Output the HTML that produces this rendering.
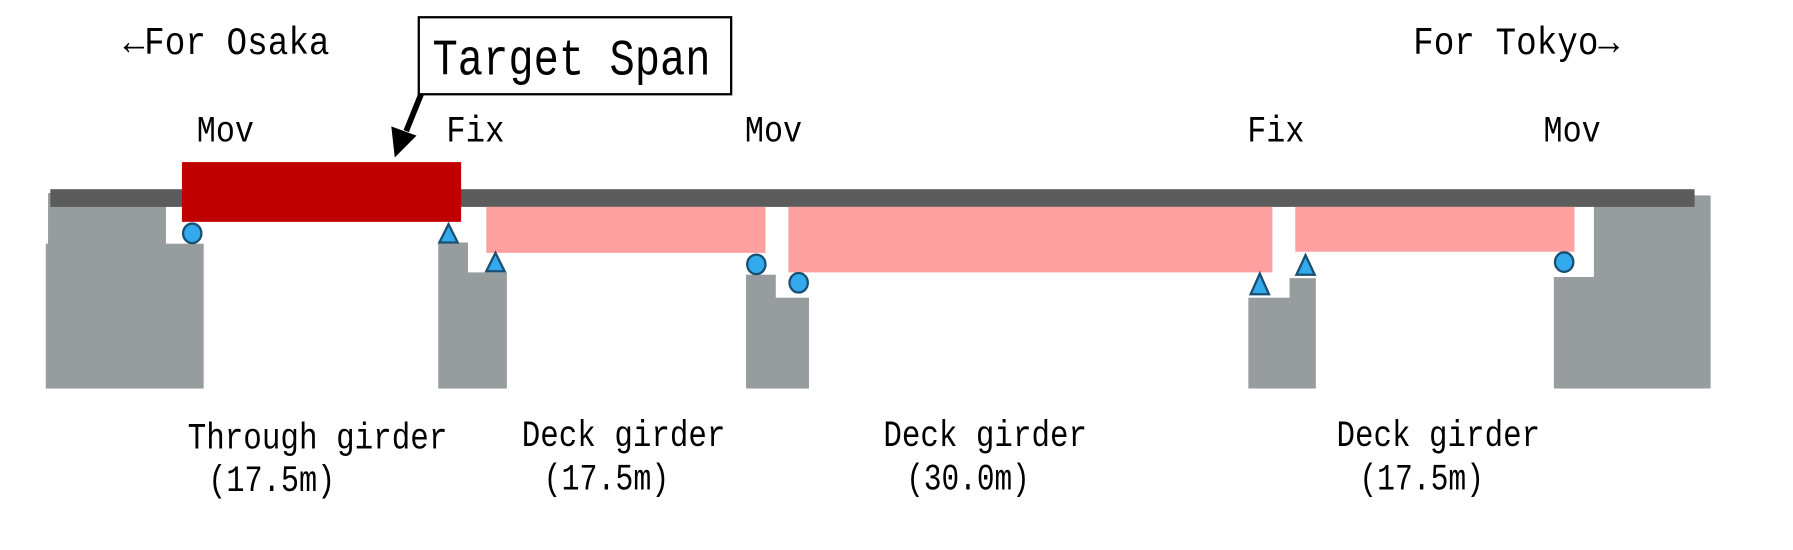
<!DOCTYPE html>
<html><head><meta charset="utf-8"><style>html,body{margin:0;padding:0;background:#fff;overflow:hidden}svg{display:block}</style></head>
<body>
<svg width="1793" height="550" viewBox="0 0 1567 478.5" preserveAspectRatio="none" xmlns="http://www.w3.org/2000/svg" font-family="Liberation Mono, monospace" fill="#000">
<rect width="1567" height="478.5" fill="#fff"/>
<g fill="#979c9e">
<rect x="42" y="168" width="103" height="50"/>
<rect x="40" y="212" width="138" height="126"/>
<rect x="383" y="211" width="26" height="127"/>
<rect x="407" y="237" width="36" height="101"/>
<rect x="652" y="239" width="26" height="99"/>
<rect x="677" y="259" width="30" height="79"/>
<rect x="1091" y="259" width="37" height="79"/>
<rect x="1127" y="242" width="23" height="96"/>
<rect x="1393" y="170" width="102" height="75"/>
<rect x="1358" y="241" width="137" height="97"/>
</g>
<rect x="44" y="164.6" width="1437" height="15.4" fill="#5c5c5c"/>
<g fill="#ffa0a0">
<rect x="425" y="180" width="244" height="40"/>
<rect x="689" y="180" width="423" height="57"/>
<rect x="1132" y="180" width="244" height="39"/>
</g>
<rect x="159" y="141" width="244" height="52" fill="#c00000"/>
<g fill="#33aaee" stroke="#1b4f72" stroke-width="2">
<ellipse cx="168" cy="203" rx="8" ry="8.5"/>
<ellipse cx="661" cy="230" rx="8" ry="8.5"/>
<ellipse cx="698" cy="246" rx="8" ry="8.5"/>
<ellipse cx="1367" cy="228" rx="8" ry="8.5"/>
<polygon points="392,195 384,211 400,211"/>
<polygon points="433,220 425,236 441,236"/>
<polygon points="1101,238 1093,256 1109,256"/>
<polygon points="1141,222 1133,239 1149,239"/>
</g>
<rect x="366" y="15" width="273" height="67" fill="#fff" stroke="#000" stroke-width="2"/>
<text x="378" y="65" font-size="44" textLength="243" lengthAdjust="spacingAndGlyphs">Target Span</text>
<line x1="368" y1="82" x2="355" y2="114" stroke="#000" stroke-width="5"/>
<polygon points="345,137 342,110 364,118" fill="#000"/>
<text x="108" y="47" font-size="34" textLength="180" lengthAdjust="spacingAndGlyphs">←For Osaka</text>
<text x="1235" y="47" font-size="34" textLength="180" lengthAdjust="spacingAndGlyphs">For Tokyo→</text>
<g font-size="32">
<text x="172" y="123" textLength="50" lengthAdjust="spacingAndGlyphs">Mov</text>
<text x="390" y="123" textLength="51" lengthAdjust="spacingAndGlyphs">Fix</text>
<text x="651" y="123" textLength="50" lengthAdjust="spacingAndGlyphs">Mov</text>
<text x="1090" y="123" textLength="50" lengthAdjust="spacingAndGlyphs">Fix</text>
<text x="1349" y="123" textLength="50" lengthAdjust="spacingAndGlyphs">Mov</text>
</g>
<g font-size="32">
<text x="164" y="390" textLength="227" lengthAdjust="spacingAndGlyphs">Through girder</text>
<text x="182" y="427" textLength="111" lengthAdjust="spacingAndGlyphs">(17.5m)</text>
<text x="456" y="388" textLength="178" lengthAdjust="spacingAndGlyphs">Deck girder</text>
<text x="475" y="426" textLength="110" lengthAdjust="spacingAndGlyphs">(17.5m)</text>
<text x="772" y="388" textLength="178" lengthAdjust="spacingAndGlyphs">Deck girder</text>
<text x="792" y="426" textLength="108" lengthAdjust="spacingAndGlyphs">(30.0m)</text>
<text x="1168" y="388" textLength="178" lengthAdjust="spacingAndGlyphs">Deck girder</text>
<text x="1188" y="426" textLength="109" lengthAdjust="spacingAndGlyphs">(17.5m)</text>
</g>
</svg>
</body></html>
